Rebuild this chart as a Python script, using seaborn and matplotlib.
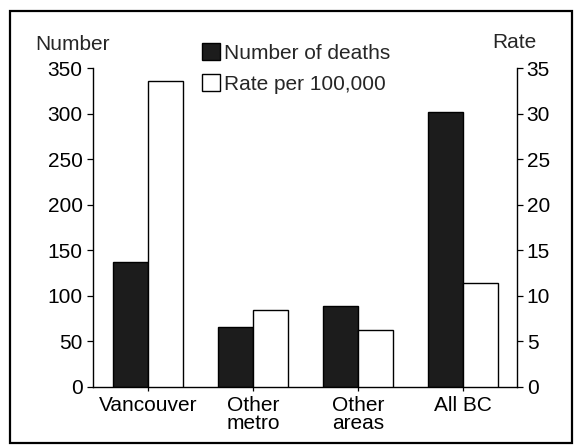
import matplotlib
matplotlib.use("Agg")
import matplotlib.pyplot as plt
import seaborn as sns
import pandas as pd
import numpy as np
from matplotlib.patches import Rectangle

regions = ["Vancouver", "Other\nmetro", "Other\nareas", "All BC"]
deaths = [137, 66, 89, 302]
rates = [33.6, 8.4, 6.3, 11.4]
series = ["Number of deaths", "Rate per 100,000"]
left_ticks = [0, 50, 100, 150, 200, 250, 300, 350]
right_ticks = [0, 5, 10, 15, 20, 25, 30, 35]

sns.set_theme(style="white")
plt.rcParams["font.family"] = ["Liberation Sans", "DejaVu Sans"]
FS = 15

df = pd.DataFrame({
    "region": regions * 2,
    "series": [series[0]] * 4 + [series[1]] * 4,
    "deaths": deaths + [np.nan] * 4,
    "rate": [np.nan] * 4 + rates,
})
palette = {series[0]: "#1c1c1c", series[1]: "white"}

W, H = 578, 447
fig = plt.figure(figsize=(W / 100, H / 100), dpi=100)
ax = fig.add_axes([93 / W, 1 - 387 / H, (517 - 93) / W, (387 - 68) / H])
ax2 = ax.twinx()

sns.barplot(data=df, x="region", y="deaths", hue="series", hue_order=series,
            palette=palette, order=regions, width=0.667, edgecolor="black",
            linewidth=1.0, errorbar=None, ax=ax, legend=True, saturation=1)
sns.barplot(data=df, x="region", y="rate", hue="series", hue_order=series,
            palette=palette, order=regions, width=0.667, edgecolor="black",
            linewidth=1.0, errorbar=None, ax=ax2, legend=False, saturation=1)

ax.set_xlim(-0.52, 3.51)
ax.set_ylim(0, 350)
ax2.set_ylim(0, 35)
ax.set_yticks(left_ticks)
ax2.set_yticks(right_ticks)
ax.set_xlabel("")
ax.set_ylabel("")
ax2.set_ylabel("")

for a in (ax, ax2):
    for s in a.spines.values():
        s.set_visible(False)
    a.grid(False)
    a.set_facecolor("none")
ax.spines["left"].set_visible(True)
ax.spines["bottom"].set_visible(True)
ax2.spines["right"].set_visible(True)
for s in (ax.spines["left"], ax.spines["bottom"], ax2.spines["right"]):
    s.set_color("black")
    s.set_linewidth(1.0)

ax.tick_params(axis="y", which="both", left=True, direction="out", length=4,
               width=0.9, pad=3.5, labelsize=FS, colors="black")
ax.tick_params(axis="x", bottom=True, direction="out", length=3, width=0.9,
               pad=3.5, labelsize=FS, colors="black")
ax2.tick_params(axis="y", right=True, direction="out", length=4, width=0.9,
                pad=3, labelsize=FS, colors="black")
for lab in ax.get_xticklabels():
    lab.set_linespacing(0.95)

handles, labels = ax.get_legend_handles_labels()
leg = ax.legend(handles, labels, loc="upper left",
                bbox_to_anchor=(202 / W, 1 - 43 / H), bbox_transform=fig.transFigure,
                frameon=False, fontsize=FS, handlelength=0.85, handleheight=0.85,
                handletextpad=0.2, labelspacing=0.55, borderpad=0, borderaxespad=0)
for h in leg.legend_handles:
    h.set_edgecolor("black")
    h.set_linewidth(1.0)

fig.text(35 / W, 1 - 50 / H, "Number", fontsize=FS, va="baseline", ha="left")
fig.text(514 / W, 1 - 48 / H, "Rate", fontsize=FS, va="baseline", ha="center")

fig.patches.append(Rectangle((10 / W, 1 - 443 / H), (572 - 10) / W, (443 - 11) / H,
                             transform=fig.transFigure, fill=False,
                             edgecolor="black", linewidth=1.6))

fig.savefig("out.png", dpi=100)
